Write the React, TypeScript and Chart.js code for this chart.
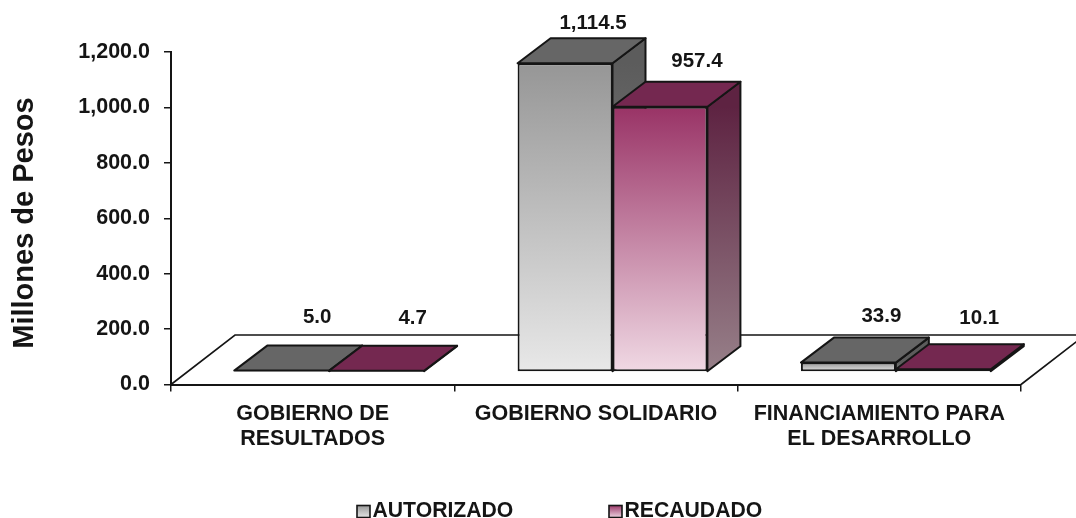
import React, { useEffect, useRef } from "react";
import { Chart, registerables } from "chart.js";

Chart.register(...registerables);

const categories = [["GOBIERNO DE", "RESULTADOS"], "GOBIERNO SOLIDARIO", ["FINANCIAMIENTO PARA", "EL DESARROLLO"]];
const autorizado = [5.0, 1114.5, 33.9];
const recaudado = [4.7, 957.4, 10.1];
const yTicksStep = 200;
const yMax = 1200;
const yTitle = "Millones de Pesos";

const FONT = "'Liberation Sans', Arial, sans-serif";
const INK = "#151515";
// front faces sit part-way into the floor; depth of bar and of floor in px
const SHIFT_X = 16.5, SHIFT_Y = -12.5, DEPTH_X = 33, DEPTH_Y = 25, FLOOR_X = 64, FLOOR_Y = 49.5;
// where the reference places each value label, relative to the bar's data point
const labelDrift = [[52, 44.5, 49.5], [52.5, 53.5, 52.5]];
const labelLift = [[66, 52.3, 58.3], [65.2, 57.6, 63.7]];

const palettes = [
  { front: ["#969696", "#e8e8e8"], top: "#666666", side: ["#5c5c5c", "#8a8a8a"] },
  { front: ["#993366", "#f0d9e4"], top: "#742850", side: ["#5e2342", "#978089"] },
];

const fmt = (v: number) => v.toLocaleString("en-US", { minimumFractionDigits: 1, maximumFractionDigits: 1 });

const frontFill = (i: number) => (ctx: any) => {
  const y = ctx.chart.scales.y;
  if (ctx.type !== "data" || !y) return palettes[i].front[0];
  const a = y.getPixelForValue(ctx.raw), b = y.getPixelForValue(0);
  if (!isFinite(a) || !isFinite(b)) return palettes[i].front[0];
  const g = ctx.chart.ctx.createLinearGradient(0, a, 0, b);
  g.addColorStop(0, palettes[i].front[0]);
  g.addColorStop(1, palettes[i].front[1]);
  return g;
};

const face = (c: CanvasRenderingContext2D, pts: number[][], fill: any, lw = 2) => {
  c.beginPath();
  pts.forEach((p, i) => (i ? c.lineTo(p[0], p[1]) : c.moveTo(p[0], p[1])));
  c.closePath();
  c.fillStyle = fill;
  c.fill();
  c.lineWidth = lw;
  c.strokeStyle = INK;
  c.lineJoin = "round";
  c.stroke();
};

const bars3d = {
  id: "bars3d",
  beforeDatasetsDraw(chart: any) {
    const { left, right, bottom } = chart.chartArea;
    const c = chart.ctx;
    c.save();
    c.beginPath();
    c.moveTo(left, bottom);
    c.lineTo(left + FLOOR_X, bottom - FLOOR_Y);
    c.lineTo(right + FLOOR_X, bottom - FLOOR_Y);
    c.lineTo(right, bottom);
    c.lineWidth = 1.6;
    c.strokeStyle = INK;
    c.stroke();
    c.restore();
  },
  // the default order paints the left series last; the 3D look needs it first
  beforeDatasetDraw() {
    return false;
  },
  afterDatasetsDraw(chart: any) {
    const c = chart.ctx;
    chart.data.datasets.forEach((_: any, i: number) => {
      const meta = chart.getDatasetMeta(i);
      const p = palettes[i];
      c.save();
      meta.data.forEach((b: any) => {
        const l = b.x - b.width / 2 + SHIFT_X, r = l + b.width;
        const t = b.y + SHIFT_Y, m = b.base + SHIFT_Y;
        const g = c.createLinearGradient(0, t, 0, m);
        g.addColorStop(0, p.side[0]);
        g.addColorStop(1, p.side[1]);
        face(c, [[r, t], [r + DEPTH_X, t - DEPTH_Y], [r + DEPTH_X, m - DEPTH_Y], [r, m]], g);
        face(c, [[l, t], [l + DEPTH_X, t - DEPTH_Y], [r + DEPTH_X, t - DEPTH_Y], [r, t]], p.top);
      });
      c.translate(SHIFT_X, SHIFT_Y);
      meta.controller.draw();
      c.restore();
    });

    c.save();
    c.font = `bold 20.5px ${FONT}`;
    c.fillStyle = INK;
    c.textAlign = "center";
    c.textBaseline = "middle";
    chart.data.datasets.forEach((ds: any, i: number) => {
      chart.getDatasetMeta(i).data.forEach((b: any, k: number) => {
        c.fillText(fmt(ds.data[k]), b.x + labelDrift[i][k], b.y - labelLift[i][k]);
      });
    });
    // legend
    const boxes = [357, 609];
    c.font = `bold 21.2px ${FONT}`;
    c.textAlign = "left";
    chart.data.datasets.forEach((ds: any, i: number) => {
      const g = c.createLinearGradient(0, 505, 0, 518);
      g.addColorStop(0, palettes[i].front[0]);
      g.addColorStop(1, palettes[i].front[1]);
      c.fillStyle = g;
      c.fillRect(boxes[i], 505.5, 13, 12);
      c.lineWidth = 1.6;
      c.strokeStyle = INK;
      c.strokeRect(boxes[i], 505.5, 13, 12);
      c.fillStyle = INK;
      c.fillText(ds.label, boxes[i] + 15.5, 511);
    });
    // axis title
    c.translate(25, 223);
    c.rotate(-Math.PI / 2);
    c.font = `bold 29px ${FONT}`;
    c.textAlign = "center";
    c.fillText(yTitle, 0, 0);
    c.restore();
  },
};

export default function App() {
  const ref = useRef<HTMLCanvasElement>(null);
  useEffect(() => {
    const chart = new Chart(ref.current!, {
      type: "bar",
      data: {
        labels: categories as any,
        datasets: [
          { label: "AUTORIZADO", data: autorizado, backgroundColor: frontFill(0) as any, borderColor: INK, borderWidth: 2, borderSkipped: false, clip: false as any },
          { label: "RECAUDADO", data: recaudado, backgroundColor: frontFill(1) as any, borderColor: INK, borderWidth: 2, borderSkipped: false, clip: false as any },
        ],
      },
      options: {
        animation: false,
        responsive: false,
        layout: { padding: { top: 52, right: 55, left: 0, bottom: 0 } },
        categoryPercentage: 0.67,
        barPercentage: 1,
        plugins: { legend: { display: false }, tooltip: { enabled: false }, title: { display: false } },
        scales: {
          x: {
            offset: true,
            border: { display: true, color: INK, width: 2 },
            grid: { display: true, drawOnChartArea: false, tickLength: 7, color: INK, lineWidth: 1.5, offset: true },
            ticks: { color: INK, padding: 10, maxRotation: 0, autoSkip: false, font: { family: FONT, size: 21.5, weight: "bold", lineHeight: 1.17 } },
            afterFit(s: any) { s.height = 133.5; },
          },
          y: {
            min: 0,
            max: yMax,
            border: { display: true, color: INK, width: 2 },
            grid: { display: true, drawOnChartArea: false, tickLength: 7, color: INK, lineWidth: 1.5 },
            ticks: { stepSize: yTicksStep, color: INK, padding: 14, font: { family: FONT, size: 21.5, weight: "bold" }, callback: (v: any) => fmt(Number(v)) },
            afterFit(s: any) { s.width = 171; },
          },
        },
      } as any,
      plugins: [bars3d],
    });
    return () => chart.destroy();
  }, []);
  return (
    <div style={{ position: "absolute", left: 0, top: 0, width: 1076, height: 518 }}>
      <canvas ref={ref} width={1076} height={518} style={{ display: "block", width: 1076, height: 518, filter: "blur(0.4px)" }} />
    </div>
  );
}
